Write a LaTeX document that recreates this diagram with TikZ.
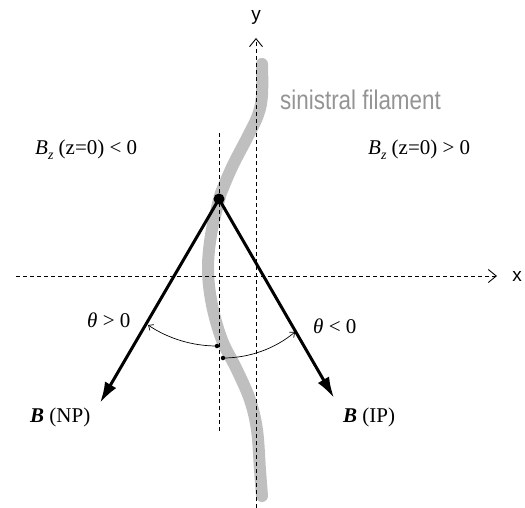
\documentclass[tikz,border=0pt]{standalone}
\usepackage{fontspec}
\setmainfont{Liberation Serif}
\newfontfamily\arialf{Liberation Sans}
\usetikzlibrary{arrows.meta}
\newcommand{\lowsub}[1]{\raisebox{-0.45ex}{\fontsize{14}{16}\selectfont\textit{#1}}}
\begin{document}
\begin{tikzpicture}[x=1pt,y=-1pt,
  axisline/.style={line width=1pt,dash pattern=on 4pt off 3pt},
  axisarrow/.style={-{Straight Barb[length=8pt,width=13pt,line width=0.9pt]}},
  fieldvec/.style={line width=3pt,-{Latex[length=21pt,width=13pt]}},
  anglearc/.style={line width=0.7pt,-{Straight Barb[length=4pt,width=7pt,line width=0.7pt]}},
  filament/.style={line width=12pt,color=black!25,line cap=round},
  serlabel/.style={inner sep=0pt,font=\fontsize{21}{24}\selectfont},
  sanslabel/.style={inner sep=0pt,font=\arialf\fontsize{19}{22}\selectfont},
  smalldot/.style={circle,fill=black,inner sep=0pt,minimum size=4.5pt}]
\useasboundingbox (0,0) rectangle (525,508);
% filament
\draw[filament] plot[smooth,tension=0.6] coordinates {(262,64) (262,95) (258,115) (247,138) (233,165) (223,188) (219,200) (211,235) (208,270) (212,305) (222,340) (237,370) (250,400) (257,430) (260,470) (262,496)};
\node[inner sep=0pt,anchor=base west,text=black!42] (fil) at (280,110) {\scalebox{0.83}[1]{\arialf\fontsize{27}{30}\selectfont sinistral filament}};
% axes
\coordinate (xs) at (16,276);
\coordinate (xe) at (497,276);
\coordinate (ys) at (256,508);
\coordinate (ye) at (256,38);
\coordinate (vs) at (219,133);
\coordinate (ve) at (219,433);
\draw[axisline,axisarrow] (xs) -- (xe);
\draw[axisline,axisarrow] (ys) -- (ye);
\draw[axisline] (vs) -- (ve);
\node[sanslabel,anchor=base] (xl) at (517,281) {x};
\node[sanslabel,anchor=base] (yl) at (256,21) {y};
% field vectors
\node[circle,fill=black,inner sep=0pt,minimum size=11pt] (o) at (219,199) {};
\coordinate (tipL) at (100,403);
\coordinate (tipR) at (334,398);
\draw[fieldvec] (o.center) -- (tipL);
\draw[fieldvec] (o.center) -- (tipR);
% angle arcs
\node[smalldot] (d1) at (217,346) {};
\node[smalldot] (d2) at (223,358) {};
\draw[anglearc] (d1.center) arc[start angle=90,end angle=123.8,radius=123.9];
\draw[anglearc] (d2.center) arc[start angle=90,end angle=50.3,radius=112.7];
% labels
\node[serlabel,anchor=base west] (bl) at (35,155) {\textit{B}\lowsub{z} (z=0) {<} 0};
\node[serlabel,anchor=base west] (br) at (368,155) {\textit{B}\lowsub{z} (z=0) {>} 0};
\node[serlabel,anchor=base west] (tl) at (87,327) {\textit{θ} > 0};
\node[serlabel,anchor=base west] (tr) at (313,333) {\textit{θ} < 0};
\node[serlabel,anchor=base west] (np) at (30,422) {\textbf{\textit{B}} (NP)};
\node[serlabel,anchor=base west] (ip) at (343,422) {\textbf{\textit{B}} (IP)};
\end{tikzpicture}
\end{document}
